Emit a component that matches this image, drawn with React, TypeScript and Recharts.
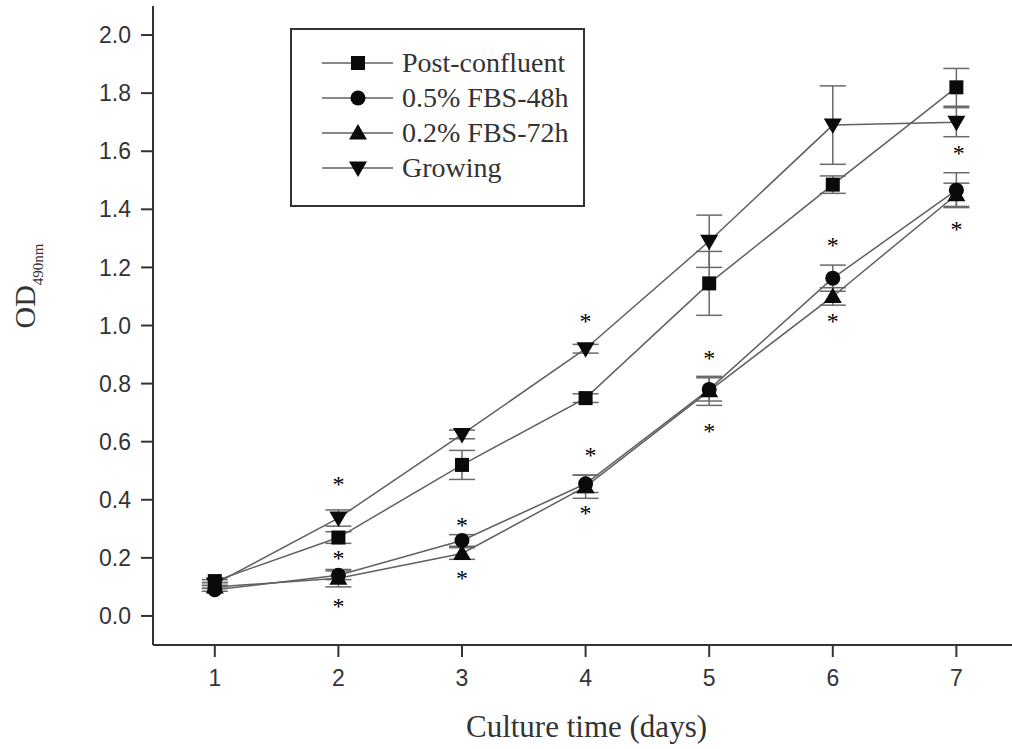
import React from 'react';
import {
  ComposedChart,
  Line,
  Scatter,
  XAxis,
  YAxis,
  ErrorBar,
  Legend,
} from 'recharts';

// ---- data ----
const days = [1, 2, 3, 4, 5, 6, 7];
const postConfluent = [0.12, 0.27, 0.52, 0.75, 1.145, 1.485, 1.82];
const postConfluentErr = [0.005, 0.02, 0.05, 0.015, 0.11, 0.03, 0.065];
const fbs05 = [0.09, 0.14, 0.26, 0.455, 0.78, 1.163, 1.466];
const fbs05Err = [0.005, 0.015, 0.02, 0.03, 0.04, 0.045, 0.06];
const fbs02 = [0.1, 0.13, 0.215, 0.445, 0.775, 1.1, 1.45];
const fbs02Err = [0.005, 0.03, 0.02, 0.04, 0.05, 0.03, 0.04];
const growing = [0.11, 0.337, 0.625, 0.92, 1.29, 1.69, 1.7];
const growingErr = [0.005, 0.028, 0.015, 0.015, 0.09, 0.135, 0.05];

const starDays = [2, 2, 2, 3, 3, 4, 4.04, 4, 5, 5, 6, 6, 7.02, 7];
const starValues = [0.465, 0.21, 0.045, 0.325, 0.14, 1.025, 0.565, 0.365, 0.9, 0.647, 1.287, 1.025, 1.605, 1.343];

const yTicks = [0, 0.2, 0.4, 0.6, 0.8, 1.0, 1.2, 1.4, 1.6, 1.8, 2.0];
const xTicks = [1, 2, 3, 4, 5, 6, 7];

const seriesNames = ['Post-confluent', '0.5% FBS-48h', '0.2% FBS-72h', 'Growing'];
const seriesShapes = ['square', 'circle', 'up', 'down'];

const rows = days.map((d, i) => ({
  day: d,
  post: postConfluent[i],
  postErr: postConfluentErr[i],
  f05: fbs05[i],
  f05Err: fbs05Err[i],
  f02: fbs02[i],
  f02Err: fbs02Err[i],
  grow: growing[i],
  growErr: growingErr[i],
}));

const starRows = starDays.map((d, i) => ({ day: d, y: starValues[i] }));

// ---- styles ----
const LINE = '#606060';
const MARK = '#0a0a0a';
const AXIS = '#333';
const SANS = '"Liberation Sans", Arial, sans-serif';
const SERIF = '"Liberation Serif", "Times New Roman", serif';

function Marker({ shape, cx, cy }: { shape: string; cx: number; cy: number }) {
  if (cx == null || cy == null) return null;
  if (shape === 'square') {
    return <rect x={cx - 7} y={cy - 7} width={14} height={14} fill={MARK} />;
  }
  if (shape === 'circle') {
    return <circle cx={cx} cy={cy} r={7.5} fill={MARK} />;
  }
  if (shape === 'up') {
    return (
      <polygon
        points={`${cx},${cy - 9} ${cx + 9},${cy + 6.5} ${cx - 9},${cy + 6.5}`}
        fill={MARK}
      />
    );
  }
  return (
    <polygon
      points={`${cx},${cy + 9} ${cx - 9},${cy - 6.5} ${cx + 9},${cy - 6.5}`}
      fill={MARK}
    />
  );
}

const makeDot = (shape: string) => (p: any) => (
  <Marker key={`${shape}-${p.index}`} shape={shape} cx={p.cx} cy={p.cy} />
);

const StarShape = (p: any) => (
  <text
    x={p.cx}
    y={p.cy + 11}
    textAnchor="middle"
    fontFamily={SERIF}
    fontSize={24}
    fill="#000"
  >
    *
  </text>
);

const LegendBox = () => (
  <svg width={295} height={179} style={{ display: 'block' }}>
    <rect x={1} y={1} width={293} height={177} fill="#fff" stroke={AXIS} strokeWidth={2} />
    {seriesNames.map((name, i) => {
      const cy = 35 + i * 35;
      return (
        <g key={name}>
          <line x1={32} x2={103} y1={cy} y2={cy} stroke={LINE} strokeWidth={1.5} />
          <Marker shape={seriesShapes[i]} cx={68} cy={cy} />
          <text x={112} y={cy + 9} fontFamily={SERIF} fontSize={28} fill="#333">
            {name}
          </text>
        </g>
      );
    })}
  </svg>
);

const YLabel = () => (
  <text
    x={35}
    y={286}
    transform="rotate(-90, 35, 286)"
    textAnchor="middle"
    fontFamily={SERIF}
    fontSize={30}
    fill="#333"
  >
    OD
    <tspan fontSize={15} dy={8}>
      490nm
    </tspan>
  </text>
);

const XLabel = (props: any) => {
  const vb = props.viewBox || { x: 153, y: 645, width: 859, height: 104 };
  return (
    <text
      x={vb.x + vb.width / 2 + 4}
      y={vb.y + 92}
      textAnchor="middle"
      fontFamily={SERIF}
      fontSize={31}
      fill="#333"
    >
      Culture time (days)
    </text>
  );
};

export default function App() {
  return (
    <div style={{ position: 'absolute', left: 0, top: 0, width: 1012, height: 749, background: '#fff', overflow: 'hidden' }}>
      <ComposedChart
        width={1012}
        height={749}
        data={rows}
        margin={{ top: 6, right: 0, bottom: 0, left: 0 }}
      >
        <XAxis
          type="number"
          dataKey="day"
          domain={[0.5, 7.45]}
          ticks={xTicks}
          allowDataOverflow
          height={104}
          stroke={AXIS}
          strokeWidth={2}
          tickSize={12}
          tickMargin={13}
          tick={{ fontFamily: SANS, fontSize: 23, fill: '#333' }}
          label={{ content: <XLabel /> }}
        />
        <YAxis
          type="number"
          domain={[-0.1, 2.1]}
          ticks={yTicks}
          allowDataOverflow
          width={153}
          stroke={AXIS}
          strokeWidth={2}
          tickSize={12}
          tickMargin={10}
          tickFormatter={(v: number) => v.toFixed(1)}
          tick={{ fontFamily: SANS, fontSize: 23, fill: '#333' }}
          label={{ content: <YLabel /> }}
        />
        <Legend
          layout="horizontal"
          verticalAlign="middle"
          align="center"
          wrapperStyle={{ left: 290, top: 28, width: 295, height: 179 }}
          content={() => <LegendBox />}
        />
        <Line
          dataKey="post"
          name={seriesNames[0]}
          stroke={LINE}
          strokeWidth={1.5}
          dot={makeDot('square')}
          activeDot={false}
          isAnimationActive={false}
        >
          <ErrorBar dataKey="postErr" width={13} stroke="#6a6a6a" strokeWidth={1.5} direction="y" />
        </Line>
        <Line
          dataKey="f05"
          name={seriesNames[1]}
          stroke={LINE}
          strokeWidth={1.5}
          dot={makeDot('circle')}
          activeDot={false}
          isAnimationActive={false}
        >
          <ErrorBar dataKey="f05Err" width={13} stroke="#6a6a6a" strokeWidth={1.5} direction="y" />
        </Line>
        <Line
          dataKey="f02"
          name={seriesNames[2]}
          stroke={LINE}
          strokeWidth={1.5}
          dot={makeDot('up')}
          activeDot={false}
          isAnimationActive={false}
        >
          <ErrorBar dataKey="f02Err" width={13} stroke="#6a6a6a" strokeWidth={1.5} direction="y" />
        </Line>
        <Line
          dataKey="grow"
          name={seriesNames[3]}
          stroke={LINE}
          strokeWidth={1.5}
          dot={makeDot('down')}
          activeDot={false}
          isAnimationActive={false}
        >
          <ErrorBar dataKey="growErr" width={13} stroke="#6a6a6a" strokeWidth={1.5} direction="y" />
        </Line>
        <Scatter
          data={starRows}
          dataKey="y"
          shape={StarShape}
          legendType="none"
          isAnimationActive={false}
        />
      </ComposedChart>
    </div>
  );
}
